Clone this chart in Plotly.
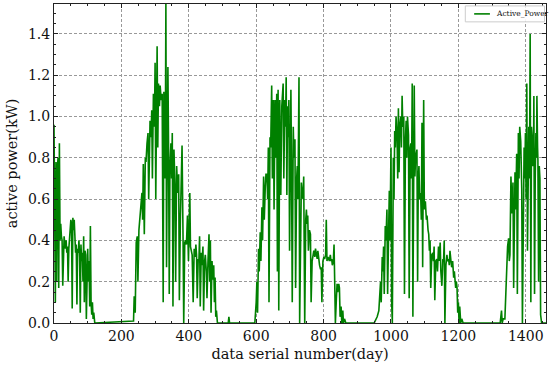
import plotly.graph_objects as go

# (day, active power kW) pairs, one list per season
season_2014a = [(0,0.96),(2,0.15),(4,0.10),(6,0.78),(8,0.20),(10,0.75),(12,0.80),(14,0.17),(16,0.87),(18,0.40),
    (20,0.48),(22,0.42),(24,0.40),(26,0.18),(28,0.39),(30,0.42),(32,0.38),(34,0.36),(36,0.40),(38,0.34),
    (40,0.37),(42,0.20),(44,0.36),(46,0.40),(48,0.46),(50,0.50),(52,0.48),(54,0.07),(56,0.51),(58,0.45),
    (60,0.50),(62,0.35),(64,0.34),(66,0.38),(68,0.09),(70,0.36),(72,0.34),(74,0.40),(76,0.32),(78,0.05),
    (80,0.38),(82,0.30),(84,0.34),(86,0.20),(88,0.42),(90,0.10),(92,0.35),(94,0.33),(96,0.02),(98,0.32),
    (100,0.36),(102,0.20),(104,0.30),(106,0.08),(108,0.47),(110,0.10),(112,0.04),(114,0.10),(116,0.02),(118,0.05),
    (121,0.0)]
season_2014b = [(236,0.01),(238,0.13),(241,0.05),(244,0.39),(247,0.42),(249,0.20),(252,0.45),(256,0.53),(259,0.55),(261,0.63),
    (263,0.50),(265,0.77),(268,0.43),(271,0.80),(273,0.78),(276,0.87),(279,0.92),(281,0.60),(283,0.96),(285,0.98),
    (288,0.90),(290,1.03),(292,0.70),(295,1.11),(298,0.95),(300,1.26),(302,0.60),(304,1.00),(306,1.34),(308,0.85),
    (310,1.16),(313,1.05),(315,1.15),(318,1.08),(321,1.11),(324,0.10),(326,1.12),(328,1.00),(330,0.70),(332,1.545),
    (334,0.27),(336,0.80),(338,1.24),(340,0.84),(342,0.14),(344,0.75),(347,0.87),(349,0.70),(351,0.92),(353,0.08),
    (356,0.84),(359,0.66),(361,0.20),(364,0.76),(367,0.63),(370,0.72),(372,0.11),(375,0.50),(378,0.70),(380,0.86),
    (383,0.40),(385,0.0),(388,0.39),(391,0.40),(393,0.38),(396,0.52),(399,0.30),(401,0.45),(403,0.63),(405,0.37),
    (408,0.35),(410,0.33),(413,0.10),(416,0.36),(419,0.32),(421,0.38),(423,0.33),(425,0.12),(428,0.31),(430,0.30),
    (432,0.42),(434,0.08),(437,0.34),(439,0.28),(442,0.37),(444,0.06),(447,0.30),(449,0.33),(452,0.25),(454,0.12),
    (457,0.30),(460,0.43),(462,0.20),(464,0.40),(466,0.05),(469,0.30),(471,0.21),(474,0.28),(476,0.10),(478,0.22),
    (480,0.03),(482,0.06),(485,0.0),(517,0.0),(519,0.03),(521,0.0),(596,0.0)]
season_2015 = [(597,0.02),(600,0.10),(602,0.20),(604,0.05),(607,0.36),(609,0.25),(612,0.44),(614,0.30),(617,0.56),(619,0.40),
    (622,0.71),(624,0.50),(627,0.66),(629,0.72),(632,0.72),(634,0.60),(636,0.85),(638,0.10),(641,0.90),(643,0.85),
    (646,1.15),(648,0.70),(651,1.08),(653,0.55),(656,1.08),(658,0.80),(661,1.11),(663,0.25),(665,1.13),(667,0.06),
    (670,1.08),(673,0.62),(676,1.05),(680,1.16),(682,0.70),(685,1.08),(687,0.95),(689,1.19),(691,0.62),(693,1.05),
    (695,0.90),(697,1.08),(699,0.35),(701,1.03),(703,1.13),(705,0.71),(707,0.10),(710,0.95),(712,0.80),(715,0.89),
    (717,0.17),(720,0.70),(722,0.76),(724,0.60),(727,1.19),(729,0.0),(732,0.55),(734,0.68),(737,0.62),(739,0.60),
    (741,0.71),(744,0.0),(747,0.50),(749,0.55),(751,0.48),(753,0.52),(755,0.35),(758,0.45),(761,0.43),(763,0.10),
    (766,0.30),(768,0.33),(771,0.35),(774,0.32),(776,0.36),(779,0.33),(781,0.31),(783,0.35),(786,0.30),(788,0.28),
    (791,0.26),(793,0.27),(795,0.10),(798,0.30),(801,0.32),(803,0.31),(806,0.33),(808,0.50),(810,0.30),(813,0.32),
    (815,0.31),(817,0.30),(820,0.33),(822,0.30),(824,0.31),(826,0.28),(829,0.30),(831,0.38),(833,0.20),(835,0.0),
    (838,0.12),(840,0.19),(842,0.15),(845,0.19),(847,0.17),(849,0.03),(852,0.08),(854,0.0),(857,0.06),(859,0.0),
    (862,0.02),(866,0.0),(950,0.0)]
season_2016 = [(959,0.03),(964,0.06),(969,0.20),(971,0.10),(974,0.32),(976,0.25),(978,0.37),(980,0.14),(983,0.47),(985,0.40),
    (988,0.55),(990,0.14),(993,0.50),(995,0.64),(997,0.40),(1000,0.85),(1002,0.10),(1004,0.0),(1007,0.80),(1009,0.60),
    (1011,0.93),(1013,0.85),(1015,1.0),(1018,0.91),(1020,0.70),(1022,1.04),(1024,0.73),(1026,0.95),(1029,1.0),(1031,0.85),
    (1033,1.10),(1035,0.95),(1038,1.0),(1040,0.14),(1043,0.90),(1045,0.98),(1047,0.80),(1049,1.0),(1052,0.91),(1054,0.12),
    (1057,0.85),(1059,0.87),(1061,0.70),(1063,1.16),(1065,0.03),(1067,0.90),(1069,1.15),(1071,0.71),(1073,0.80),(1077,0.84),
    (1079,0.20),(1081,0.70),(1083,0.76),(1085,0.60),(1088,0.63),(1090,0.50),(1092,0.97),(1094,0.27),(1097,1.08),(1099,0.55),
    (1102,0.59),(1105,0.50),(1107,0.52),(1110,0.45),(1112,0.43),(1114,0.35),(1116,0.40),(1118,0.17),(1121,0.33),(1124,0.34),
    (1126,0.30),(1128,0.37),(1130,0.11),(1133,0.30),(1136,0.31),(1138,0.25),(1141,0.37),(1143,0.30),(1146,0.39),(1148,0.25),
    (1151,0.18),(1154,0.31),(1156,0.30),(1158,0.40),(1160,0.0),(1163,0.28),(1166,0.33),(1168,0.30),(1171,0.31),(1173,0.28),
    (1175,0.35),(1178,0.30),(1180,0.27),(1183,0.30),(1186,0.22),(1188,0.25),(1190,0.20),(1192,0.17),(1194,0.20),(1196,0.17),
    (1198,0.05),(1200,0.10),(1202,0.0),(1204,0.08),(1207,0.0),(1210,0.02),(1214,0.0)]
season_2017 = [(1324,0.0),(1326,0.03),(1328,0.06),(1330,0.0),(1333,0.02),(1338,0.02),(1340,0.10),(1343,0.27),(1346,0.37),(1349,0.41),
    (1351,0.30),(1353,0.33),(1356,0.71),(1359,0.53),(1362,0.68),(1364,0.17),(1366,0.60),(1368,0.73),(1370,0.55),(1373,0.82),
    (1375,0.14),(1378,0.92),(1380,0.70),(1382,0.95),(1385,0.88),(1388,0.65),(1390,0.0),(1393,0.80),(1395,0.85),(1397,0.70),
    (1399,0.92),(1401,0.60),(1403,1.16),(1405,0.35),(1407,0.90),(1409,0.95),(1411,0.70),(1413,1.40),(1415,0.10),(1417,0.95),
    (1419,0.90),(1421,0.76),(1423,0.80),(1424,1.10),(1426,0.14),(1428,0.70),(1430,0.92),(1432,0.80),(1433,1.10),(1435,0.85),
    (1436,0.79),(1438,0.20),(1440,0.76),(1442,0.70),(1444,0.04),(1447,0.0),(1460,0.0)]

x_ticks = [0, 200, 400, 600, 800, 1000, 1200, 1400]
y_ticks = [0.0, 0.2, 0.4, 0.6, 0.8, 1.0, 1.2, 1.4]
series_name = "Active_Power"
line_color = "#008000"

pairs = season_2014a + season_2014b + season_2015 + season_2016 + season_2017
days = [p[0] for p in pairs]
power = [p[1] for p in pairs]

FONT = "DejaVu Serif"
fig = go.Figure()
fig.add_trace(go.Scatter(x=days, y=power, mode="lines", name=series_name,
                         line=dict(color=line_color, width=1.6), showlegend=False))

axis_common = dict(
    showline=True, linecolor="#222", linewidth=1, mirror="allticks",
    ticks="inside", ticklen=4, tickwidth=0.8, tickcolor="#222",
    showgrid=True, gridcolor="#999", gridwidth=0.7, griddash="3px,2px",
    zeroline=False, tickfont=dict(family=FONT, size=14, color="#111"),
    automargin=False,
)
fig.update_xaxes(range=[0, max(days)], tickvals=x_ticks,
                 minor=dict(dtick=50, ticks="inside", ticklen=2, tickcolor="#222", showgrid=False),
                 title=dict(text="data serial number(day)", font=dict(family=FONT, size=14.5, color="#111"), standoff=6),
                 **axis_common)
fig.update_yaxes(range=[0, max(power)], tickvals=y_ticks, tickformat=".1f",
                 minor=dict(dtick=0.05, ticks="inside", ticklen=2, tickcolor="#222", showgrid=False),
                 title=dict(text="active power(kW)", font=dict(family=FONT, size=14.5, color="#111"), standoff=6),
                 **axis_common)

# compact legend box in the top-right corner (matplotlib-style)
fig.add_shape(type="rect", xref="paper", yref="paper", x0=0.836, x1=0.997, y0=0.944, y1=0.994,
              line=dict(color="#cccccc", width=1), fillcolor="rgba(255,255,255,0.9)", layer="above")
fig.add_shape(type="line", xref="paper", yref="paper", x0=0.854, x1=0.886, y0=0.969, y1=0.969,
              line=dict(color=line_color, width=1.6), layer="above")
fig.add_annotation(xref="paper", yref="paper", x=0.895, y=0.969, xanchor="left", yanchor="middle",
                   text=series_name, showarrow=False,
                   font=dict(family=FONT, size=7.5, color="#111"))

fig.update_layout(
    width=550, height=366, margin=dict(l=54, r=4, t=4, b=43),
    paper_bgcolor="white", plot_bgcolor="white",
    showlegend=False,
)
fig.write_html("out.html", config={"displayModeBar": False},
               post_script="document.body.style.margin='0';document.body.style.padding='0';")
